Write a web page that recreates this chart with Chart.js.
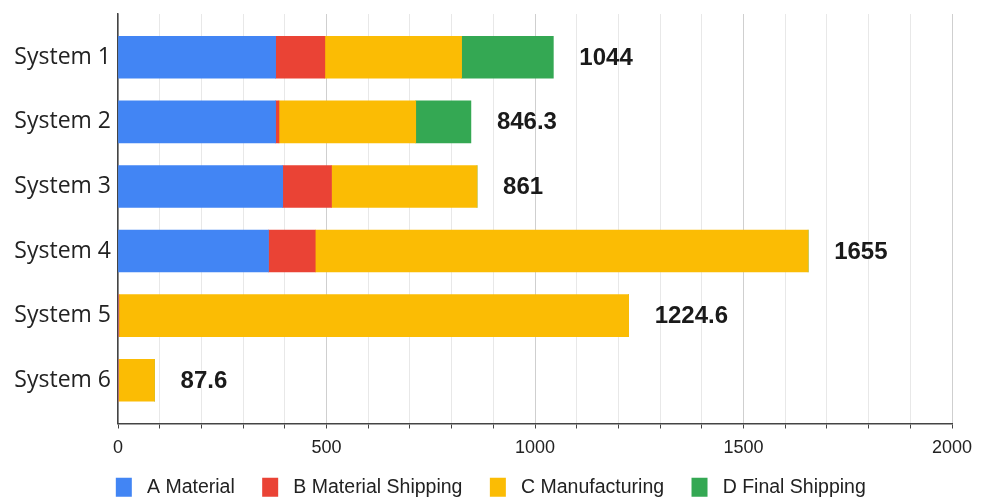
<!DOCTYPE html>
<html>
<head>
<meta charset="utf-8">
<script src="https://cdn.jsdelivr.net/npm/chart.js@4.4.1/dist/chart.umd.min.js"></script>
<style>
  html, body { margin: 0; padding: 0; background: #fff; overflow: hidden; }
  #wrap { width: 987px; height: 507px; position: relative; }
</style>
</head>
<body>
<div id="wrap"><canvas id="costChart"></canvas></div>
<script>
const systems = ['System 1', 'System 2', 'System 3', 'System 4', 'System 5', 'System 6'];
const seriesNames = ['A Material', 'B Material Shipping', 'C Manufacturing', 'D Final Shipping'];
const aMaterial = [378, 378, 395, 361, 0, 0];
const bMaterialShipping = [118, 8, 117, 112, 2, 1];
const cManufacturing = [328, 328, 349, 1182, 1222.6, 86.6];
const dFinalShipping = [220, 132.3, 0, 0, 0, 0];
const xTickLabels = [0, 500, 1000, 1500, 2000];

const colors = ['#4285f4', '#ea4335', '#fbbc04', '#34a853'];
const allSeries = [aMaterial, bMaterialShipping, cManufacturing, dFinalShipping];

// totals per system, shown at the end of each bar
const totals = systems.map((s, i) => {
    let sum = 0;
    allSeries.forEach(arr => { sum += arr[i]; });
    return Math.round(sum * 10) / 10;
});

const totalLabels = {
    id: 'totalLabels',
    afterDatasetsDraw(chart) {
        const ctx = chart.ctx;
        const xs = chart.scales.x;
        const ys = chart.scales.y;
        ctx.save();
        ctx.font = 'bold 24px "Liberation Sans", Arial, sans-serif';
        ctx.fillStyle = '#1a1a1a';
        ctx.textBaseline = 'middle';
        ctx.textAlign = 'left';
        totals.forEach((t, i) => {
            ctx.fillText(String(t), xs.getPixelForValue(t) + 26, ys.getPixelForValue(i) + 1);
        });
        ctx.restore();
    }
};

const ctx = document.getElementById('costChart').getContext('2d');
new Chart(ctx, {
    type: 'bar',
    data: {
        datasets: allSeries.map((arr, k) => ({
            label: seriesNames[k],
            data: arr.map((v, i) => ({ x: v, y: i })),
            backgroundColor: colors[k],
            borderWidth: 0,
            barThickness: 42
        }))
    },
    options: {
        indexAxis: 'y',
        responsive: true,
        maintainAspectRatio: false,
        animation: false,
        layout: { padding: { left: 0, right: 0, top: 14, bottom: 0 } },
        scales: {
            x: {
                type: 'linear',
                stacked: true,
                min: 0,
                max: 2000,
                afterFit: scale => {
                    scale.height = 32;
                    scale.paddingLeft = 0;
                    scale.paddingRight = 35;
                },
                border: { display: true, color: '#444', width: 1.5 },
                grid: {
                    color: c => (c.tick && c.tick.value % 500 === 0) ? '#cfcfcf' : '#e8e8e8',
                    tickColor: '#444',
                    tickLength: 5
                },
                ticks: {
                    stepSize: 100,
                    autoSkip: false,
                    maxRotation: 0,
                    padding: 9,
                    color: '#222',
                    font: { family: '"Liberation Sans", Arial, sans-serif', size: 18 },
                    callback: v => xTickLabels.includes(v) ? String(v) : ''
                }
            },
            y: {
                type: 'linear',
                stacked: true,
                reverse: true,
                offset: false,
                min: -0.67,
                max: 5.67,
                afterFit: scale => {
                    scale.width = 118;
                    scale.paddingTop = 0;
                    scale.paddingBottom = 0;
                },
                afterBuildTicks: scale => { scale.ticks = systems.map((s, i) => ({ value: i })); },
                border: { display: true, color: '#444', width: 1.5 },
                grid: { display: false, drawTicks: false, offset: false },
                ticks: {
                    padding: 7,
                    color: '#222',
                    font: { family: '"Open Sans", sans-serif', size: 23 },
                    callback: v => systems[v]
                }
            }
        },
        plugins: {
            legend: {
                position: 'bottom',
                labels: {
                    boxWidth: 16,
                    boxHeight: 19,
                    padding: 22,
                    color: '#222',
                    font: { family: '"Liberation Sans", Arial, sans-serif', size: 19.5 },
                    generateLabels: chart => {
                        const items = Chart.defaults.plugins.legend.labels.generateLabels(chart);
                        items.forEach(it => { it.text = ' ' + it.text + ' '; });
                        return items;
                    }
                }
            },
            tooltip: { enabled: false }
        }
    },
    plugins: [totalLabels]
});
</script>
</body>
</html>
